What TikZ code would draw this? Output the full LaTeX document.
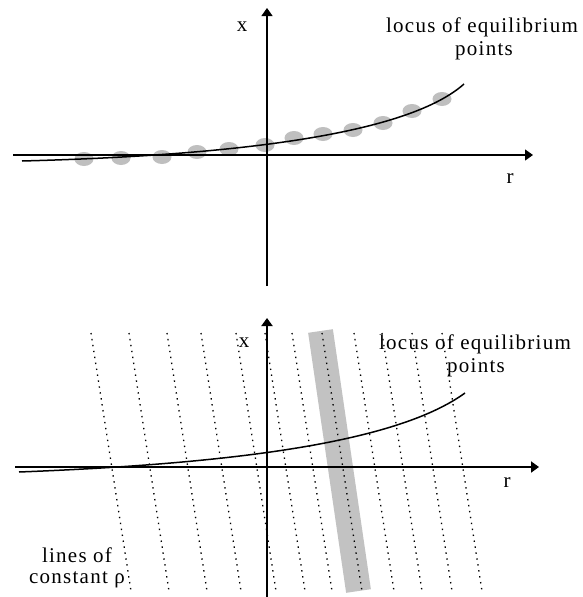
\documentclass[tikz,border=0pt]{standalone}
\usepackage{fontspec}
\setmainfont{Liberation Serif}
\newfontfamily\labfont[LetterSpace=6]{Liberation Serif}
\usetikzlibrary{arrows.meta}
\tikzset{
  axis/.style={line width=1.3pt,-{Triangle[length=8pt,width=11pt]}},
  axisb/.style={line width=1.9pt,-{Triangle[length=8pt,width=11pt]}},
  locus/.style={line width=1.5pt},
  eqpt/.style={fill=black!25,draw=none},
  rho/.style={line width=1.3pt,dash pattern=on 1.4pt off 4.6pt},
  band/.style={line width=25pt,draw=black!24},
  lab/.style={font=\fontsize{21pt}{24pt}\labfont,anchor=base,inner sep=0pt}
}
\begin{document}
\begin{tikzpicture}[x=1pt,y=-1pt]
\useasboundingbox (0,0) rectangle (582,597);
% ---------- top panel ----------
\foreach \px/\py in {84/159,121/158,162/157,197/152,229/149,265/145,294/138,323/134,353/130,383/123,412/111,442/99}
  \fill[eqpt] (\px,\py) ellipse (9.5pt and 7pt);
\draw[axis] (13,155) -- (533,155);
\draw[axis] (267,286) -- (267,8);
\draw[locus] (22,161) .. controls (250,155) and (410,132) .. (464,84);
\node[lab] (xt) at (242,31) {x};
\node[lab] (rt) at (510,183) {r};
\node[lab] (lt1) at (482,32) {locus of equilibrium};
\node[lab] (lt2) at (484,55) {points};
% ---------- bottom panel ----------
\draw[band] (320.5,331) -- (358.5,591);
\foreach \tx in {91,129,167,201,236,265,292,322,354,382,412,442}
  \draw[rho] (\tx,333) -- ({\tx+40},591);
\draw[axisb] (15,467) -- (539,467);
\draw[axisb] (267,597) -- (267,318);
\draw[locus] (19,472) .. controls (250,463) and (400,440) .. (465,393);
\node[lab] (xb) at (244,347) {x};
\node[lab] (rb) at (507,487) {r};
\node[lab] (lb1) at (475,349) {locus of equilibrium};
\node[lab] (lb2) at (476,372) {points};
\node[lab] (cr1) at (77,562) {lines of};
\node[lab] (cr2) at (77,583) {constant ρ};
\end{tikzpicture}
\end{document}
